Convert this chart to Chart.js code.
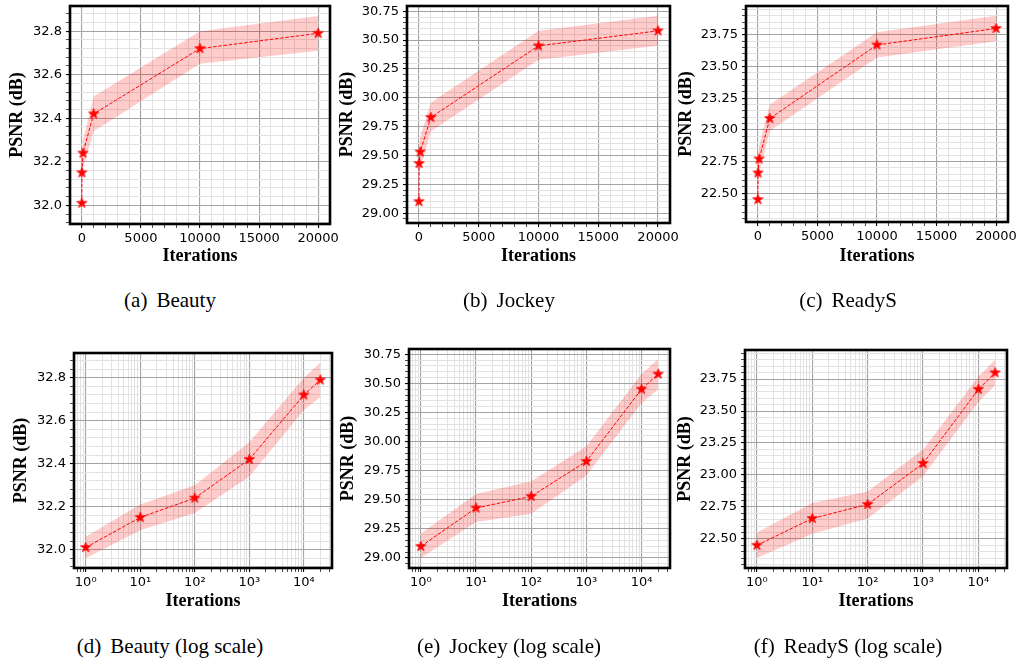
<!DOCTYPE html>
<html>
<head>
<meta charset="utf-8">
<script src="https://cdn.jsdelivr.net/npm/chart.js@4/dist/chart.umd.min.js"></script>
<style>
  html, body { margin: 0; padding: 0; background: #fff; }
  body { width: 1018px; height: 660px; position: relative; overflow: hidden; }
  .panel { position: absolute; }
  .panel canvas { display: block; }
  .cap { position: absolute; width: 340px; text-align: center; font-family: 'Liberation Serif', serif;
         font-size: 21px; line-height: 24px; color: #000; white-space: nowrap; }
  .cap span + span { margin-left: 9px; }
</style>
</head>
<body>
<script>
// iterations on the x axis
const ITERS = [1, 10, 100, 1000, 10000, 20000];

// PSNR (dB) per scene, with the shaded band edges
const BEAUTY_PSNR  = [32.01, 32.15, 32.24, 32.42, 32.72, 32.79];
const BEAUTY_UPPER = [32.06, 32.21, 32.30, 32.50, 32.80, 32.87];
const BEAUTY_LOWER = [31.96, 32.09, 32.17, 32.34, 32.65, 32.71];

const JOCKEY_PSNR  = [29.10, 29.43, 29.53, 29.83, 30.45, 30.58];
const JOCKEY_UPPER = [29.21, 29.55, 29.66, 29.96, 30.58, 30.71];
const JOCKEY_LOWER = [29.00, 29.31, 29.38, 29.71, 30.33, 30.45];

const READYS_PSNR  = [22.45, 22.66, 22.77, 23.09, 23.67, 23.80];
const READYS_UPPER = [22.55, 22.78, 22.87, 23.20, 23.77, 23.90];
const READYS_LOWER = [22.35, 22.54, 22.66, 22.99, 23.57, 23.70];

// tick labels
const BEAUTY_YTICKS  = [32.0, 32.2, 32.4, 32.6, 32.8];
const BEAUTY_YLABELS = ['32.0', '32.2', '32.4', '32.6', '32.8'];
const JOCKEY_YTICKS  = [29.00, 29.25, 29.50, 29.75, 30.00, 30.25, 30.50, 30.75];
const JOCKEY_YLABELS = ['29.00', '29.25', '29.50', '29.75', '30.00', '30.25', '30.50', '30.75'];
const READYS_YTICKS  = [22.50, 22.75, 23.00, 23.25, 23.50, 23.75];
const READYS_YLABELS = ['22.50', '22.75', '23.00', '23.25', '23.50', '23.75'];

const X_LIN_TICKS  = [0, 5000, 10000, 15000, 20000];
const X_LIN_LABELS = ['0', '5000', '10000', '15000', '20000'];
const X_LOG_TICKS  = [1, 10, 100, 1000, 10000];
const X_LOG_LABELS = ['10\u2070', '10\u00b9', '10\u00b2', '10\u00b3', '10\u2074'];

const CAP_TAGS  = ['(a)', '(b)', '(c)', '(d)', '(e)', '(f)'];
const CAP_TEXTS = ['Beauty', 'Jockey', 'ReadyS', 'Beauty (log scale)', 'Jockey (log scale)', 'ReadyS (log scale)'];

const SCENES = [
    { psnr: BEAUTY_PSNR, upper: BEAUTY_UPPER, lower: BEAUTY_LOWER, ticks: BEAUTY_YTICKS, labels: BEAUTY_YLABELS,
      min: 31.9145, max: 32.9155, minor: 0.04 },
    { psnr: JOCKEY_PSNR, upper: JOCKEY_UPPER, lower: JOCKEY_LOWER, ticks: JOCKEY_YTICKS, labels: JOCKEY_YLABELS,
      min: 28.9145, max: 30.7955, minor: 0.05 },
    { psnr: READYS_PSNR, upper: READYS_UPPER, lower: READYS_LOWER, ticks: READYS_YTICKS, labels: READYS_YLABELS,
      min: 22.2725, max: 23.9775, minor: 0.05 }
];

// box = container [left, top, width, height]; frame = plot area [left, top, right, bottom]; ylab = y title centre x
const PANELS = [
    { scene: 0, log: false, box: [0, 0, 340, 270],   frame: [70, 5, 330, 224],   ylab: 17 },
    { scene: 1, log: false, box: [334, 0, 346, 270], frame: [407, 4, 670, 223],  ylab: 347.5 },
    { scene: 2, log: false, box: [672, 0, 346, 270], frame: [746, 5, 1008, 222], ylab: 686 },
    { scene: 0, log: true, box: [0, 340, 340, 275],   frame: [74, 353, 332, 568],  ylab: 21 },
    { scene: 1, log: true, box: [334, 340, 346, 275], frame: [409, 349, 670, 568], ylab: 348 },
    { scene: 2, log: true, box: [672, 340, 346, 275], frame: [745, 350, 1007, 568], ylab: 685 }
];
const CAP_Y = [300, 646];

const RED = '#ff0000';
const BAND = 'rgba(255, 0, 0, 0.2)';
const GRID_MAJOR = '#a3a3a3';
const GRID_MINOR = '#e2e2e2';
const TICK_FONT = { family: 'DejaVu Sans', size: 13 };
const TITLE_FONT = { family: 'Liberation Serif', size: 18, weight: 'bold' };

const X_LIN_MIN = -999, X_LIN_MAX = 20999.95;
const X_LOG_MIN = Math.pow(10, -0.215), X_LOG_MAX = Math.pow(10, 4.516);

function near(a, b) { return Math.abs(a - b) < 1e-6 * Math.max(1, Math.abs(b)); }
function majorIndex(list, v) { return list.findIndex(t => near(t, v)); }

function linearTicks(min, max, step) {
    const out = [];
    for (let k = Math.ceil(min / step); k * step < max; k++) {
        out.push({ value: Math.round(k * step * 1000) / 1000 + 0 });
    }
    return out;
}

function logTicks(min, max) {
    const out = [];
    [0.1, 1, 10, 100, 1000, 10000].forEach(d => {
        for (let m = 1; m <= 9; m++) {
            const v = Math.round(m * d * 10) / 10;
            if (v > min && v < max) out.push({ value: v });
        }
    });
    return out;
}

function starImage() {
    const c = document.createElement('canvas');
    c.width = 13; c.height = 13;
    const g = c.getContext('2d');
    g.beginPath();
    for (let i = 0; i < 10; i++) {
        const r = i % 2 ? 2.1 : 5.4;
        const a = -Math.PI / 2 + i * Math.PI / 5;
        g.lineTo(6.5 + r * Math.cos(a), 6.5 + r * Math.sin(a));
    }
    g.closePath();
    g.fillStyle = RED;
    g.fill();
    g.strokeStyle = RED;
    g.lineWidth = 0.8;
    g.stroke();
    return c;
}
const STAR = starImage();

const framePlugin = {
    id: 'frame',
    afterDatasetsDraw(chart) {
        const { ctx, chartArea: a } = chart;
        ctx.save();
        ctx.strokeStyle = '#000';
        ctx.lineWidth = 2.6;
        ctx.strokeRect(a.left, a.top, a.right - a.left, a.bottom - a.top);
        ctx.restore();
    }
};

function points(ys) { return ITERS.map((x, i) => ({ x: x, y: ys[i] })); }

function makePanel(p, idx) {
    const s = SCENES[p.scene];
    const [L, T, W, H] = p.box;
    const [fl, ft, fr, fb] = p.frame;

    const div = document.createElement('div');
    div.className = 'panel';
    div.style.cssText = `left:${L}px;top:${T}px;width:${W}px;height:${H}px`;
    const cv = document.createElement('canvas');
    cv.width = W;
    cv.height = H;
    div.appendChild(cv);
    document.body.appendChild(div);

    const yW = fl - L;
    const xH = H - (fb - T);
    const xMajor = p.log ? X_LOG_TICKS : X_LIN_TICKS;
    const xLabels = p.log ? X_LOG_LABELS : X_LIN_LABELS;
    const xMin = p.log ? X_LOG_MIN : X_LIN_MIN;
    const xMax = p.log ? X_LOG_MAX : X_LIN_MAX;

    const gridOpts = majors => ({
        color: ctx => majorIndex(majors, ctx.tick.value) >= 0 ? GRID_MAJOR : GRID_MINOR,
        lineWidth: ctx => majorIndex(majors, ctx.tick.value) >= 0 ? 1.1 : 1,
        drawTicks: true,
        tickLength: 4,
        tickColor: '#000',
        tickWidth: ctx => majorIndex(majors, ctx.tick.value) >= 0 ? 1.1 : 0.7
    });

    new Chart(cv, {
        type: 'line',
        data: {
            datasets: [
                {
                    data: points(s.psnr),
                    borderColor: RED,
                    borderWidth: 1,
                    borderDash: [3.6, 1.6],
                    pointStyle: STAR,
                    pointRadius: 5,
                    tension: 0,
                    fill: false,
                    order: 0
                },
                {
                    data: points(s.upper),
                    borderColor: 'transparent',
                    borderWidth: 0,
                    pointRadius: 0,
                    backgroundColor: BAND,
                    fill: '+1',
                    order: 1
                },
                {
                    data: points(s.lower),
                    borderColor: 'transparent',
                    borderWidth: 0,
                    pointRadius: 0,
                    fill: false,
                    order: 2
                }
            ]
        },
        options: {
            responsive: false,
            animation: false,
            events: [],
            layout: { padding: { left: 0, top: ft - T, right: L + W - fr, bottom: 0 } },
            plugins: { legend: { display: false }, tooltip: { enabled: false } },
            scales: {
                x: {
                    type: p.log ? 'logarithmic' : 'linear',
                    min: xMin,
                    max: xMax,
                    bounds: 'data',
                    afterBuildTicks: ax => {
                        ax.ticks = p.log ? logTicks(xMin, xMax) : linearTicks(xMin, xMax, 1000);
                    },
                    afterFit: ax => { ax.height = xH; ax.paddingLeft = 0; ax.paddingRight = 0; },
                    ticks: {
                        autoSkip: false,
                        maxRotation: 0,
                        padding: 3,
                        font: TICK_FONT,
                        color: '#000',
                        callback: v => {
                            const i = majorIndex(xMajor, v);
                            return i >= 0 ? xLabels[i] : '';
                        }
                    },
                    grid: gridOpts(xMajor),
                    border: { display: false },
                    title: { display: true, text: 'Iterations', font: TITLE_FONT, color: '#000',
                             padding: { top: 0, bottom: 3 } }
                },
                y: {
                    type: 'linear',
                    min: s.min,
                    max: s.max,
                    bounds: 'data',
                    afterBuildTicks: ax => { ax.ticks = linearTicks(s.min, s.max, s.minor); },
                    afterFit: ax => { ax.width = yW; ax.paddingTop = 0; ax.paddingBottom = 0; },
                    ticks: {
                        autoSkip: false,
                        padding: 4,
                        font: TICK_FONT,
                        color: '#000',
                        callback: v => {
                            const i = majorIndex(s.ticks, v);
                            return i >= 0 ? s.labels[i] : '';
                        }
                    },
                    grid: gridOpts(s.ticks),
                    border: { display: false },
                    title: { display: true, text: 'PSNR (dB)', font: TITLE_FONT, color: '#000',
                             padding: { top: p.ylab - L - 10.8, bottom: 0 } }
                }
            }
        },
        plugins: [framePlugin]
    });

    const cap = document.createElement('div');
    cap.className = 'cap';
    cap.style.left = (idx % 3) * 339 + 'px';
    cap.style.top = (CAP_Y[Math.floor(idx / 3)] - 12) + 'px';
    const t1 = document.createElement('span');
    t1.textContent = CAP_TAGS[idx];
    const t2 = document.createElement('span');
    t2.textContent = CAP_TEXTS[idx];
    cap.appendChild(t1);
    cap.appendChild(t2);
    document.body.appendChild(cap);
}

PANELS.forEach(makePanel);
</script>
</body>
</html>
